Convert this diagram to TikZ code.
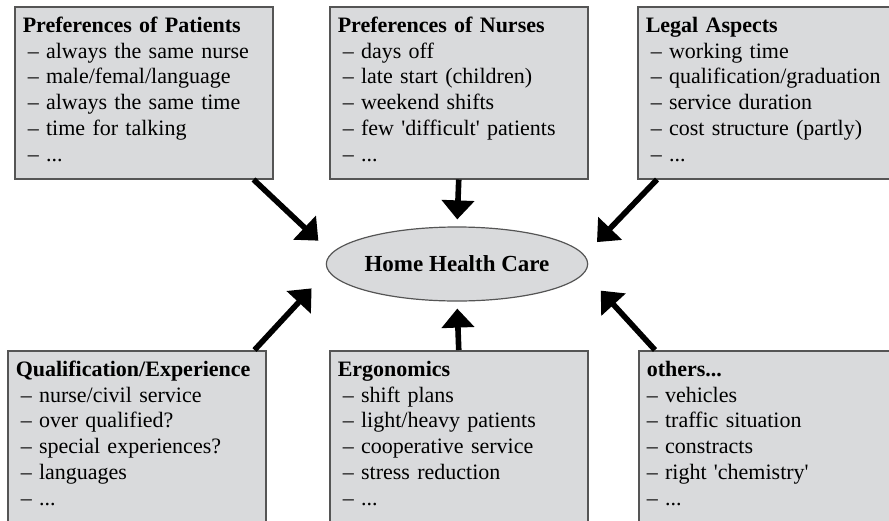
\documentclass[tikz,border=0pt]{standalone}
\usepackage{fontspec}
\setmainfont{Liberation Serif}
\usetikzlibrary{arrows.meta}
\usetikzlibrary{shapes.geometric}

\definecolor{boxgray}{RGB}{217,218,220}
\definecolor{rimgray}{RGB}{85,85,85}

\begin{document}
\begin{tikzpicture}[x=0.5pt,y=-0.5pt,
  every node/.style={align=left},
  factor/.style={draw=rimgray,line width=0.75pt,fill=boxgray,anchor=north west,
    inner xsep=4pt,inner ysep=4.5pt,text width=121pt,
    text height=8.4pt,text depth=68.6pt,
    font=\fontsize{11}{12.85}\selectfont},
  focus/.style={draw=rimgray,line width=0.6pt,fill=boxgray,ellipse,inner sep=0pt,
    minimum width=127pt,minimum height=37pt,align=center,
    font=\fontsize{11.5}{14}\selectfont\bfseries},
  to/.style={-{Triangle[length=9.5pt,width=16pt]},line width=2.8pt}]

  \clip (0,0) rectangle (889,520);

  % upper row
  \node[factor] (patients) at (14,6) {\textbf{Preferences of Patients}\\
    \hspace*{2.5pt}– always the same nurse\\
    \hspace*{2.5pt}– male/femal/language\\
    \hspace*{2.5pt}– always the same time\\
    \hspace*{2.5pt}– time for talking\\
    \hspace*{2.5pt}– ...};
  \node[factor] (nurses) at (329,6) {\textbf{Preferences of Nurses}\\
    \hspace*{2.5pt}– days off\\
    \hspace*{2.5pt}– late start (children)\\
    \hspace*{2.5pt}– weekend shifts\\
    \hspace*{2.5pt}– few \textquotesingle difficult\textquotesingle{} patients\\
    \hspace*{2.5pt}– ...};
  \node[factor] (legal) at (637,6) {\textbf{Legal Aspects}\\
    \hspace*{2.5pt}– working time\\
    \hspace*{2.5pt}– qualification/graduation\\
    \hspace*{2.5pt}– service duration\\
    \hspace*{2.5pt}– cost structure (partly)\\
    \hspace*{2.5pt}– ...};

  % lower row
  \node[factor] (qualification) at (7,350) {\textbf{Qualification/Experience}\\
    \hspace*{2.5pt}– nurse/civil service\\
    \hspace*{2.5pt}– over qualified?\\
    \hspace*{2.5pt}– special experiences?\\
    \hspace*{2.5pt}– languages\\
    \hspace*{2.5pt}– ...};
  \node[factor] (ergonomics) at (329,350) {\textbf{Ergonomics}\\
    \hspace*{2.5pt}– shift plans\\
    \hspace*{2.5pt}– light/heavy patients\\
    \hspace*{2.5pt}– cooperative service\\
    \hspace*{2.5pt}– stress reduction\\
    \hspace*{2.5pt}– ...};
  \node[factor] (others) at (638,350) {\textbf{others...}\\
    – vehicles\\
    – traffic situation\\
    – constracts\\
    – right \textquotesingle chemistry\textquotesingle\\
    – ...};

  \node[focus] (home-care) at (457,264) {Home Health Care};

  \draw[to,shorten >=9pt] ([xshift=-10pt]patients.south east) -- (home-care.175.7);
  \draw[to,shorten >=3.5pt] (nurses.south) -- (home-care.north);
  \draw[to,shorten >=9pt] ([xshift=10pt]legal.south west) -- (home-care.4.3);

  \draw[to,shorten >=12pt] ([xshift=-6pt]qualification.north east) -- (home-care.183.7);
  \draw[to,shorten >=3.5pt] (ergonomics.north) -- (home-care.south);
  \draw[to,shorten >=12pt] ([xshift=8.5pt]others.north west) -- (home-care.356.3);
\end{tikzpicture}
\end{document}
